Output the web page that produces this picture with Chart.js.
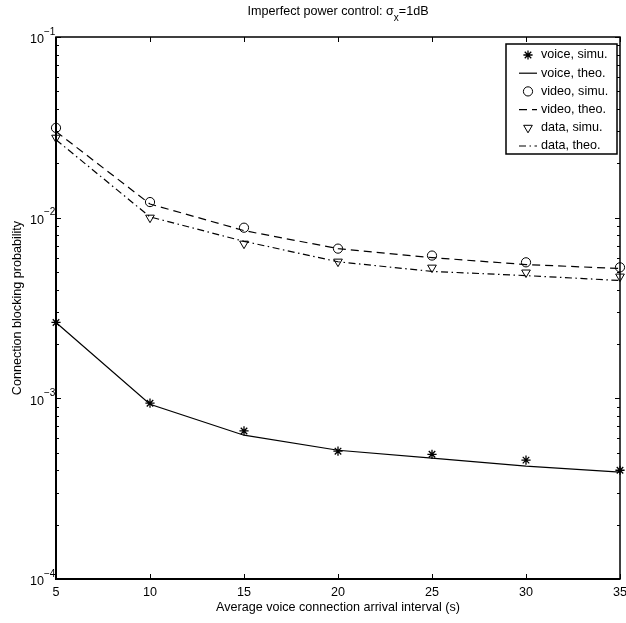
<!DOCTYPE html>
<html>
<head>
<meta charset="utf-8">
<script src="https://cdn.jsdelivr.net/npm/chart.js@4.4.1/dist/chart.umd.min.js"></script>
<style>
  html, body { margin: 0; padding: 0; background: #ffffff; }
  #wrap { position: relative; width: 626px; height: 623px; }
</style>
</head>
<body>
<div id="wrap"><canvas id="c" width="626" height="623"></canvas></div>
<script>
// ---- data ----
const xValues = [5, 10, 15, 20, 25, 30, 35];
const voiceSimu = [2.63e-3, 9.4e-4, 6.6e-4, 5.1e-4, 4.9e-4, 4.55e-4, 4.0e-4];
const voiceTheo = [2.63e-3, 9.27e-4, 6.25e-4, 5.16e-4, 4.67e-4, 4.21e-4, 3.9e-4];
const videoSimu = [3.14e-2, 1.22e-2, 8.8e-3, 6.74e-3, 6.17e-3, 5.66e-3, 5.31e-3];
const videoTheo = [3.0e-2, 1.19e-2, 8.48e-3, 6.74e-3, 6.01e-3, 5.5e-3, 5.23e-3];
const dataSimu = [2.77e-2, 1.0e-2, 7.18e-3, 5.71e-3, 5.29e-3, 4.97e-3, 4.72e-3];
const dataTheo = [2.7e-2, 1.01e-2, 7.4e-3, 5.7e-3, 5.04e-3, 4.78e-3, 4.49e-3];

const xTicks = [5, 10, 15, 20, 25, 30, 35];
const yExponents = [-4, -3, -2, -1];
const seriesLabels = ['voice, simu.', 'voice, theo.', 'video, simu.', 'video, theo.', 'data, simu.', 'data, theo.'];
const titleMain = 'Imperfect power control: \u03C3';
const titleSub = 'x';
const titleTail = '=1dB';
const xTitle = 'Average voice connection arrival interval (s)';
const yTitle = 'Connection blocking probability';

const FONT = '"Liberation Sans", Arial, Helvetica, sans-serif';
const FS = 12.6;

function pts(arr) { return xValues.map((x, i) => ({ x: x, y: arr[i] })); }

const markerSet = (label, arr, style, radius, rotation, bw) => ({
  label: label, data: pts(arr), showLine: false,
  pointStyle: style, pointRadius: radius, pointRotation: rotation || 0,
  pointBorderColor: '#000', pointBackgroundColor: 'rgba(0,0,0,0)', pointBorderWidth: bw,
  borderColor: '#000', clip: false
});
const lineSet = (label, arr, dash) => ({
  label: label, data: pts(arr), showLine: true, pointRadius: 0,
  borderColor: '#000', borderWidth: 1.2, borderDash: dash, tension: 0, clip: false, fill: false
});

const datasets = [
  markerSet(seriesLabels[0], voiceSimu, 'star', 4.6, 0, 1.3),
  lineSet(seriesLabels[1], voiceTheo, []),
  markerSet(seriesLabels[2], videoSimu, 'circle', 4.6, 0, 1),
  lineSet(seriesLabels[3], videoTheo, [8, 5]),
  markerSet(seriesLabels[4], dataSimu, 'triangle', 5, 180, 1),
  lineSet(seriesLabels[5], dataTheo, [7, 3.5, 1.5, 3.5])
];

function drawMarker(ctx, style, x, y, r, rot, bw) {
  if (Chart.helpers && Chart.helpers.drawPoint) {
    Chart.helpers.drawPoint(ctx, { pointStyle: style, radius: r, rotation: rot, borderWidth: bw }, x, y);
  }
}

const decor = {
  id: 'decor',
  afterDraw(chart) {
    const ctx = chart.ctx;
    const xs = chart.scales.x, ys = chart.scales.y;
    const a = chart.chartArea;
    ctx.save();
    ctx.strokeStyle = '#000';
    ctx.fillStyle = '#000';

    // ticks (inside)
    ctx.lineWidth = 1;
    ctx.beginPath();
    xTicks.forEach(v => {
      const px = Math.round(xs.getPixelForValue(v)) + 0.5;
      ctx.moveTo(px, a.bottom); ctx.lineTo(px, a.bottom - 5);
      ctx.moveTo(px, a.top); ctx.lineTo(px, a.top + 5);
    });
    yExponents.forEach((e, i) => {
      const base = Math.pow(10, e);
      const py = Math.round(ys.getPixelForValue(base)) + 0.5;
      ctx.moveTo(a.left, py); ctx.lineTo(a.left + 5, py);
      ctx.moveTo(a.right, py); ctx.lineTo(a.right - 5, py);
      if (i < yExponents.length - 1) {
        for (let m = 2; m <= 9; m++) {
          const my = Math.round(ys.getPixelForValue(m * base)) + 0.5;
          ctx.moveTo(a.left, my); ctx.lineTo(a.left + 3, my);
          ctx.moveTo(a.right, my); ctx.lineTo(a.right - 3, my);
        }
      }
    });
    ctx.stroke();

    // box
    ctx.lineWidth = 1.5;
    ctx.strokeRect(a.left, a.top, a.right - a.left, a.bottom - a.top);
    ctx.lineWidth = 2;
    ctx.beginPath();
    ctx.moveTo(a.left, a.top); ctx.lineTo(a.left, a.bottom); ctx.lineTo(a.right, a.bottom);
    ctx.stroke();

    // x tick labels
    ctx.font = FS + 'px ' + FONT;
    ctx.textAlign = 'center';
    ctx.textBaseline = 'middle';
    xTicks.forEach(v => {
      ctx.fillText(String(v), xs.getPixelForValue(v), a.bottom + 14);
    });

    // y tick labels 10^e
    yExponents.forEach(e => {
      const py = ys.getPixelForValue(Math.pow(10, e));
      ctx.font = FS + 'px ' + FONT;
      ctx.textAlign = 'right';
      ctx.textBaseline = 'middle';
      ctx.fillText('10', a.left - 12, py + 3);
      ctx.font = '10px ' + FONT;
      ctx.textAlign = 'left';
      ctx.fillText(String(e).replace('-', '\u2212'), a.left - 12, py - 5);
    });

    // axis titles
    ctx.font = FS + 'px ' + FONT;
    ctx.textAlign = 'center';
    ctx.textBaseline = 'middle';
    ctx.fillText(xTitle, (a.left + a.right) / 2, a.bottom + 29);
    ctx.save();
    ctx.translate(18, (a.top + a.bottom) / 2);
    ctx.rotate(-Math.PI / 2);
    ctx.fillText(yTitle, 0, 0);
    ctx.restore();

    // title with subscript
    ctx.font = FS + 'px ' + FONT;
    const w1 = ctx.measureText(titleMain).width;
    const w3 = ctx.measureText(titleTail).width;
    ctx.font = '10px ' + FONT;
    const w2 = ctx.measureText(titleSub).width;
    const total = w1 + w2 + w3;
    let tx = (a.left + a.right) / 2 - total / 2;
    ctx.textAlign = 'left';
    ctx.textBaseline = 'middle';
    ctx.font = FS + 'px ' + FONT;
    ctx.fillText(titleMain, tx, 12);
    ctx.font = '10px ' + FONT;
    ctx.fillText(titleSub, tx + w1, 18);
    ctx.font = FS + 'px ' + FONT;
    ctx.fillText(titleTail, tx + w1 + w2, 12);

    // legend
    const lx = 506, ly = 44, lw = 111, lh = 110;
    ctx.fillStyle = '#fff';
    ctx.fillRect(lx, ly, lw, lh);
    ctx.strokeStyle = '#000';
    ctx.lineWidth = 1.5;
    ctx.strokeRect(lx, ly, lw, lh);
    ctx.fillStyle = '#000';
    ctx.font = FS + 'px ' + FONT;
    ctx.textAlign = 'left';
    ctx.textBaseline = 'middle';
    chart.data.datasets.forEach((ds, i) => {
      const y = 55 + i * 18.2;
      ctx.save();
      ctx.strokeStyle = '#000';
      ctx.fillStyle = 'rgba(0,0,0,0)';
      if (ds.showLine) {
        ctx.lineWidth = 1.2;
        ctx.setLineDash(ds.borderDash || []);
        ctx.beginPath();
        ctx.moveTo(519, y); ctx.lineTo(537, y);
        ctx.stroke();
      } else {
        ctx.lineWidth = ds.pointBorderWidth;
        drawMarker(ctx, ds.pointStyle, 528, y, ds.pointRadius, ds.pointRotation, ds.pointBorderWidth);
      }
      ctx.restore();
      ctx.fillText(ds.label, 541, y);
    });
    ctx.restore();
  }
};

new Chart(document.getElementById('c'), {
  type: 'scatter',
  data: { datasets: datasets },
  options: {
    responsive: false,
    animation: false,
    devicePixelRatio: 1,
    layout: { padding: { left: 56, right: 4, top: 37, bottom: 44 } },
    plugins: { legend: { display: false }, title: { display: false }, tooltip: { enabled: false } },
    scales: {
      x: { type: 'linear', min: 5, max: 35, display: false },
      y: { type: 'logarithmic', min: 1e-4, max: 1e-1, display: false }
    }
  },
  plugins: [decor]
});
</script>
</body>
</html>
